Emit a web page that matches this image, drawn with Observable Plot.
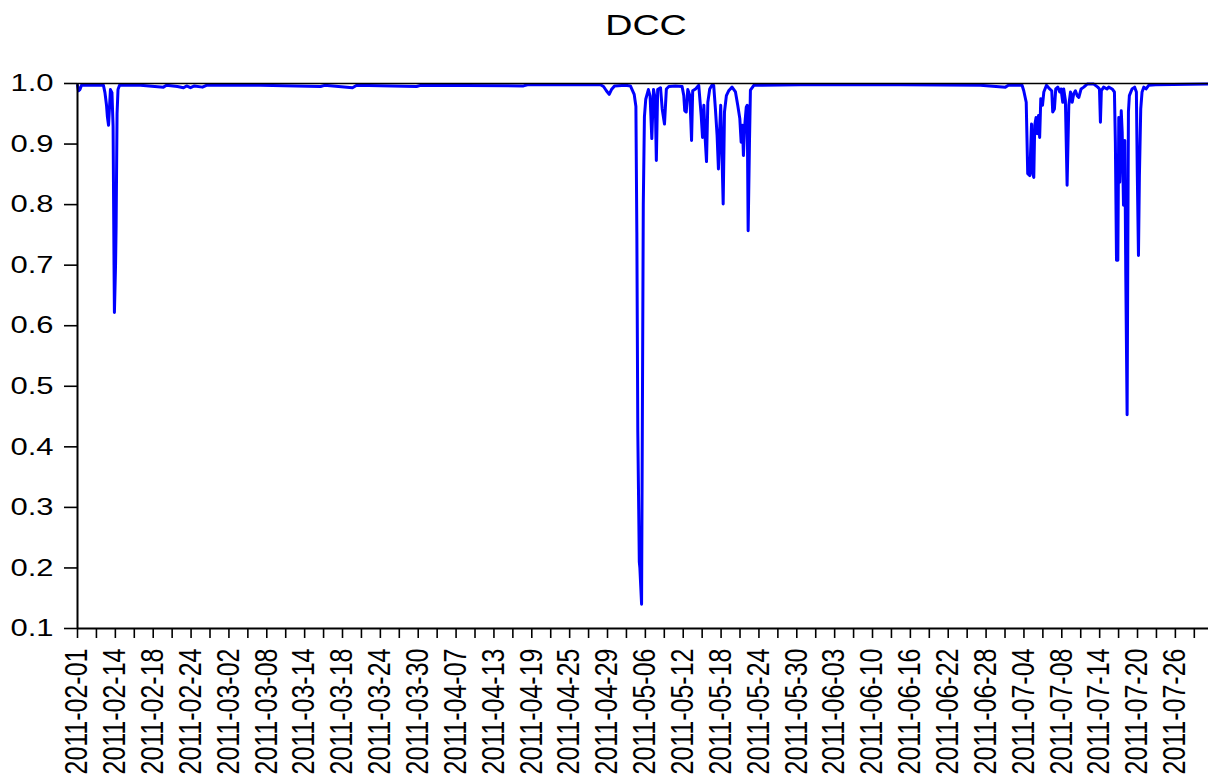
<!DOCTYPE html>
<html>
<head>
<meta charset="utf-8">
<script src="https://cdn.jsdelivr.net/npm/d3@7"></script>
<script src="https://cdn.jsdelivr.net/npm/@observablehq/plot@0.6"></script>
<style>
  html, body { margin: 0; padding: 0; background: #fff; overflow: hidden; }
</style>
</head>
<body>
<div id="chart"></div>
<script>
// Observation position (in axis-tick units; one tick = two trading days)
const obs = [
  0.00,0.05,0.13,0.21,1.37,1.45,1.53,1.58,1.64,1.69,1.74,1.82,1.88,1.93,1.95,2.01,2.04,2.09,2.14,2.22,
  3.33,4.54,4.70,5.28,5.60,5.76,5.97,6.18,6.60,6.81,9.67,12.84,13.05,14.53,14.75,17.91,18.12,23.56,23.77,
  27.63,27.79,27.94,28.09,28.21,28.37,28.95,29.21,29.41,29.50,29.55,29.60,29.68,29.71,29.80,29.89,29.95,30.02,30.16,30.25,30.34,30.43,30.52,30.58,30.65,30.80,30.89,31.01,31.11,
  31.24,31.59,31.94,32.03,32.08,32.16,32.24,32.35,32.44,32.50,32.65,32.82,32.95,33.02,33.09,33.16,33.23,33.30,33.40,33.53,33.61,33.70,33.79,33.86,33.93,33.98,34.04,34.11,34.18,34.28,34.40,34.58,34.76,34.88,34.99,35.06,35.13,35.18,35.25,35.33,35.38,35.43,35.50,35.55,35.73,
  38.19,43.48,47.70,49.02,49.18,49.81,49.90,49.99,50.12,50.20,50.31,50.40,50.47,50.52,50.57,50.64,50.70,50.77,50.83,50.89,50.98,51.05,51.19,51.36,51.47,51.52,51.61,51.68,51.79,51.89,51.96,52.05,52.10,52.19,52.28,52.37,52.46,52.55,52.63,52.72,52.81,52.90,53.02,53.16,53.34,53.69,53.90,53.99,54.04,54.09,54.21,54.39,
  54.48,54.66,54.78,54.83,54.89,54.96,55.01,55.06,55.14,55.19,55.26,55.33,55.38,55.45,55.52,55.57,55.71,55.85,55.94,55.99,56.05,56.10,56.17,56.24,56.33,56.45,56.59,56.95,59.75
];
// DCC values
const dcc = [
  .997,.988,.990,.997,.997,.985,.965,.945,.931,.960,.990,.985,.930,.700,.622,.700,.765,.950,.990,.997,
  .997,.994,.997,.995,.993,.996,.993,.996,.994,.997,.997,.995,.997,.993,.997,.995,.997,.996,.998,
  .998,.995,.988,.982,.990,.996,.997,.996,.982,.962,.754,.427,.210,.200,.140,.800,.945,.974,.990,.979,.909,.990,.975,.873,.990,.993,.958,.933,.991,
  .995,.996,.995,.980,.955,.953,.990,.980,.906,.988,.991,.997,.947,.911,.964,.909,.871,.969,.991,.998,.997,.958,.914,.859,.925,.964,.892,.801,.953,.980,.988,.994,.986,.964,.942,.903,.931,.881,.931,.961,.964,.757,.903,.989,.997,
  .998,.998,.997,.994,.997,.997,.997,.988,.969,.851,.848,.933,.851,.845,.931,.944,.917,.947,.911,.975,.964,.986,.997,.991,.988,.953,.958,.991,.994,.986,.991,.969,.991,.972,.832,.964,.986,.969,.983,.988,.980,.977,.991,.994,.999,.999,.994,.991,.936,.988,.994,.991,
  .994,.991,.986,.903,.708,.708,.944,.837,.955,.920,.799,.906,.683,.453,.953,.980,.991,.994,.986,.848,.716,.848,.958,.986,.994,.991,.997,.998,.999
];
const dateLabels = [
  "2011-02-01","2011-02-14","2011-02-18","2011-02-24","2011-03-02","2011-03-08","2011-03-14","2011-03-18",
  "2011-03-24","2011-03-30","2011-04-07","2011-04-13","2011-04-19","2011-04-25","2011-04-29","2011-05-06",
  "2011-05-12","2011-05-18","2011-05-24","2011-05-30","2011-06-03","2011-06-10","2011-06-16","2011-06-22",
  "2011-06-28","2011-07-04","2011-07-08","2011-07-14","2011-07-20","2011-07-26"
];
const yTicks = [0.1,0.2,0.3,0.4,0.5,0.6,0.7,0.8,0.9,1.0];
const titleText = "DCC";

const data = obs.map((t, i) => ({t, v: dcc[i]}));
const xTicks = d3.range(0, 60);

const chart = Plot.plot({
  width: 1208,
  height: 776,
  marginLeft: 77,
  marginRight: 0,
  marginTop: 83,
  marginBottom: 148,
  x: {domain: [0, 59.75]},
  y: {domain: [0.1, 1.0]},
  style: {fontFamily: '"Liberation Sans", Arial, Helvetica, sans-serif', background: "#fff", color: "#000"},
  marks: [
    Plot.line(data, {x: "t", y: "v", stroke: "#0000ff", strokeWidth: 3, strokeLinejoin: "round"}),
    Plot.axisY({ticks: yTicks, tickFormat: d3.format(".1f"), tickSize: 13, tickPadding: 11, fontSize: 24, strokeWidth: 1.6, label: null}),
    Plot.axisX({ticks: xTicks, tickFormat: d => d % 2 === 0 ? dateLabels[d / 2] : "", tickRotate: -90, tickSize: 10, tickPadding: 10, fontSize: 25, strokeWidth: 1.6, label: null}),
    Plot.ruleY([0.1], {stroke: "#000", strokeWidth: 2}),
    Plot.ruleX([0], {stroke: "#000", strokeWidth: 2}),
    Plot.ruleY([1.0], {stroke: "#000", strokeWidth: 1.6}),
    Plot.text([titleText], {frameAnchor: "top", lineAnchor: "middle", dy: -58, dx: 3, fontSize: 29})
  ]
});
document.getElementById("chart").appendChild(chart);

// widen glyphs horizontally to match the reference rendering
function stretch(sel, sx, sy) {
  chart.querySelectorAll(sel).forEach(el => {
    const tr = el.getAttribute("transform") || "";
    el.setAttribute("transform", tr + ` scale(${sx},${sy})`);
  });
}
stretch('g[aria-label="y-axis tick label"] text', 1.29, 1);
stretch('g[aria-label="x-axis tick label"] text', 1, 1.22);
stretch('g[aria-label="text"] text', 1.3, 1);
</script>
</body>
</html>
